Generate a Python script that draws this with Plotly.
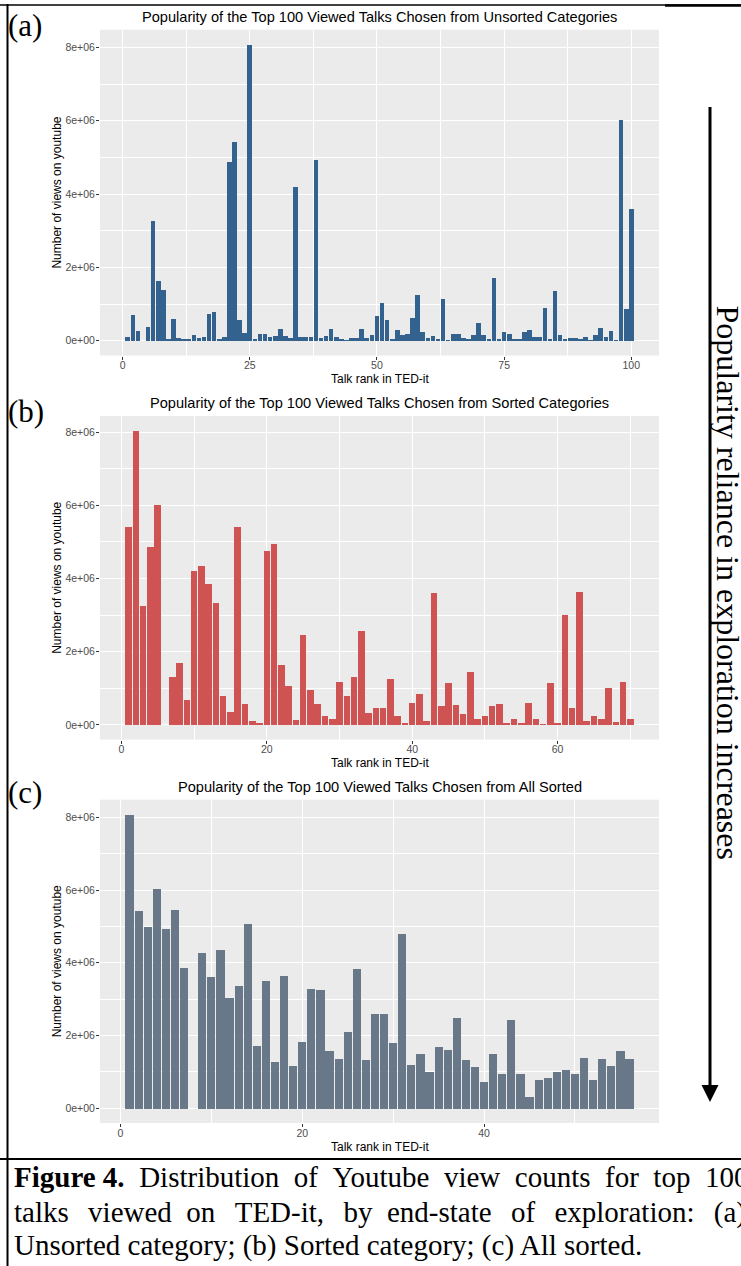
import plotly.graph_objects as go

# ---------------- data (views in millions) ----------------
ranks_a = list(range(1, 101))
views_a = [0.12, 0.70, 0.26, None, 0.37, 3.26, 1.65, 1.38, 0.06, 0.60,
           0.07, 0.03, 0.05, 0.17, 0.08, 0.10, 0.74, 0.80, 0.05, 0.11,
           4.89, 5.43, 0.58, 0.22, 8.08, 0.05, 0.18, 0.18, 0.12, 0.13,
           0.32, 0.14, 0.08, 4.20, 0.12, 0.10, 0.10, 4.95, 0.07, 0.13,
           0.34, 0.12, 0.05, 0.02, 0.07, 0.07, 0.34, 0.08, 0.15, 0.69,
           1.05, 0.58, 0.05, 0.30, 0.15, 0.18, 0.63, 1.26, 0.25, 0.07,
           0.13, 0.05, 1.14, 0.02, 0.20, 0.18, 0.07, 0.03, 0.15, 0.50,
           0.15, 0.04, 1.71, 0.06, 0.25, 0.20, 0.04, 0.03, 0.25, 0.30,
           0.12, 0.10, 0.90, 0.05, 1.37, 0.15, 0.05, 0.08, 0.08, 0.06,
           0.10, 0.02, 0.17, 0.35, 0.10, 0.28, 0.02, 6.03, 0.86, 3.60]

ranks_b = list(range(1, 71))
views_b = [5.40, 8.04, 3.24, 4.87, 6.00, None, 1.32, 1.70, 0.67, 4.20,
           4.33, 3.84, 3.33, 0.79, 0.34, 5.40, 0.58, 0.11, 0.05, 4.75,
           4.95, 1.63, 1.05, 0.13, 2.47, 0.95, 0.58, 0.24, 0.15, 1.16,
           0.78, 1.31, 2.56, 0.32, 0.47, 0.47, 1.26, 0.24, 0.04, 0.61,
           0.85, 0.11, 3.60, 0.51, 1.15, 0.55, 0.30, 1.45, 0.15, 0.24,
           0.51, 0.56, 0.05, 0.15, 0.05, 0.61, 0.17, 0.02, 1.14, 0.05,
           3.00, 0.45, 3.64, 0.12, 0.24, 0.15, 1.00, 0.09, 1.16, 0.15]

ranks_c = list(range(1, 57))
views_c = [8.08, 5.44, 5.00, 6.05, 4.93, 5.45, 3.87, None, 4.27, 3.62,
           4.36, 3.03, 3.37, 5.07, 1.72, 3.51, 1.27, 3.65, 1.18, 1.82,
           3.28, 3.25, 1.58, 1.37, 2.10, 3.83, 1.33, 2.60, 2.60, 1.79,
           4.80, 1.20, 1.49, 1.01, 1.68, 1.61, 2.50, 1.34, 1.15, 0.73,
           1.50, 0.94, 2.43, 0.96, 0.32, 0.80, 0.83, 1.01, 1.05, 0.96,
           1.40, 0.78, 1.36, 1.18, 1.58, 1.37]

y_tickvals = [0, 2e6, 4e6, 6e6, 8e6]
y_ticktext = ["0e+00", "2e+06", "4e+06", "6e+06", "8e+06"]

titles = ["Popularity of the Top 100 Viewed Talks Chosen from Unsorted Categories",
          "Popularity of the Top 100 Viewed Talks Chosen from Sorted Categories",
          "Popularity of the Top 100 Viewed Talks Chosen from All Sorted"]
panel_labels = ["(a)", "(b)", "(c)"]
x_title = "Talk rank in TED-it"
y_title = "Number of views on youtube"
colors = ["#33628F", "#CF5352", "#687889"]
x_dticks = [25, 20, 20]

side_text = "Popularity reliance in exploration increases"
caption1_words = ["<b>Figure 4.</b>", "Distribution", "of", "Youtube", "view",
                  "counts", "for", "top", "100"]
caption2_words = ["talks", "viewed", "on", "TED-it,", "by", "end-state", "of",
                  "exploration:", "(a)"]
caption3 = "Unsorted category; (b) Sorted category; (c) All sorted."

# ---------------- layout helpers ----------------
W, H = 741, 1266
def X(p):
    return p / W
def Y(p):
    return 1 - p / H

panels_px = [(29.7, 355.5), (416.0, 739.6), (799.7, 1123.0)]  # (top, bottom)
title_y = [17, 403, 787]
label_y = [25, 411, 792]
xtitle_y = [379, 763, 1147]
px_left, px_right = 100, 659

fig = go.Figure()
annotations = []
sans = "Liberation Sans, Arial, sans-serif"
serif = "Liberation Serif, Times New Roman, serif"

data = [(ranks_a, views_a), (ranks_b, views_b), (ranks_c, views_c)]
for i, (rk, vals) in enumerate(data):
    n = len(rk)
    yv = [None if v is None else v * 1e6 for v in vals]
    ax = "" if i == 0 else str(i + 1)
    fig.add_trace(go.Bar(x=rk, y=yv, width=0.9, marker_color=colors[i],
                         marker_line_width=0, xaxis="x" + ax, yaxis="y" + ax,
                         showlegend=False))
    ymax = max(v for v in yv if v is not None)
    span = (n + 0.45) - 0.55
    xr = [0.55 - 0.05 * span, n + 0.45 + 0.05 * span]
    yr = [-0.05 * ymax, 1.05 * ymax]
    top, bot = panels_px[i]
    common = dict(showline=False, zeroline=False, gridcolor="white", gridwidth=1.3,
                  ticks="outside", ticklen=3, tickwidth=1, tickcolor="#333333",
                  tickfont=dict(family=sans, size=10.5, color="#4D4D4D"))
    fig.layout["xaxis" + ax] = dict(
        domain=[X(px_left), X(px_right)], range=xr, anchor="y" + ax,
        tickmode="linear", tick0=0, dtick=x_dticks[i], ticklabelstandoff=-3,
        minor=dict(tick0=0, dtick=x_dticks[i] / 2, showgrid=True,
                   gridcolor="white", gridwidth=0.7, ticks=""),
        **common)
    fig.layout["yaxis" + ax] = dict(
        domain=[Y(bot), Y(top)], range=yr, anchor="x" + ax,
        tickmode="array", tickvals=y_tickvals, ticktext=y_ticktext, ticklabelstandoff=-1,
        minor=dict(tick0=0, dtick=1e6, showgrid=True,
                   gridcolor="white", gridwidth=0.7, ticks=""),
        **common)
    cx = X((px_left + px_right) / 2)
    annotations.append(dict(text=titles[i], x=cx, y=Y(title_y[i]), xref="paper", yref="paper",
                            showarrow=False, xanchor="center", yanchor="middle",
                            font=dict(family=sans, size=14.6, color="black")))
    annotations.append(dict(text=x_title, x=cx, y=Y(xtitle_y[i]), xref="paper", yref="paper",
                            showarrow=False, xanchor="center", yanchor="middle",
                            font=dict(family=sans, size=12, color="black")))
    annotations.append(dict(text=y_title, x=X(57), y=Y((top + bot) / 2), xref="paper", yref="paper",
                            showarrow=False, xanchor="center", yanchor="middle", textangle=-90,
                            font=dict(family=sans, size=12, color="black")))
    annotations.append(dict(text=panel_labels[i], x=X(6), y=Y(label_y[i]), xref="paper", yref="paper",
                            showarrow=False, xanchor="left", yanchor="middle",
                            font=dict(family=serif, size=31, color="black")))

# side text
annotations.append(dict(text=side_text, x=X(728), y=Y(582.5), xref="paper", yref="paper",
                        showarrow=False, xanchor="center", yanchor="middle", textangle=90,
                        font=dict(family=serif, size=32, color="black")))

# caption (lines 1 and 2 justified by widening word gaps)
wide = " \u00a0\u2006"
mid = " \u00a0"
caption1 = mid.join(caption1_words)
gaps2 = [wide, mid, wide, wide, mid, wide, wide, wide]
caption2 = caption2_words[0]
for g, w in zip(gaps2, caption2_words[1:]):
    caption2 += g + w
for txt, yy in [(caption1, 1177), (caption2, 1212), (caption3, 1245)]:
    annotations.append(dict(text=txt, x=X(12), y=Y(yy), xref="paper", yref="paper",
                            showarrow=False, xanchor="left", yanchor="middle",
                            font=dict(family=serif, size=29, color="black")))

shapes = [
    # frame lines
    dict(type="line", xref="paper", yref="paper", x0=X(0), x1=X(741), y0=Y(5), y1=Y(5),
         line=dict(color="black", width=1.5)),
    dict(type="line", xref="paper", yref="paper", x0=X(665), x1=X(741), y0=Y(5.5), y1=Y(5.5),
         line=dict(color="black", width=2.5)),
    dict(type="line", xref="paper", yref="paper", x0=X(7.5), x1=X(7.5), y0=Y(4), y1=Y(1266),
         line=dict(color="black", width=2)),
    dict(type="line", xref="paper", yref="paper", x0=X(0), x1=X(741), y0=Y(1159), y1=Y(1159),
         line=dict(color="black", width=2)),
    # arrow
    dict(type="line", xref="paper", yref="paper", x0=X(710), x1=X(710), y0=Y(107), y1=Y(1088),
         line=dict(color="black", width=3)),
    dict(type="path", xref="paper", yref="paper",
         path=f"M {X(701.5)},{Y(1085)} L {X(718.5)},{Y(1085)} L {X(710)},{Y(1102)} Z",
         fillcolor="black", line=dict(color="black", width=0)),
]

fig.update_layout(width=W, height=H, margin=dict(l=0, r=0, t=0, b=0),
                  paper_bgcolor="white", plot_bgcolor="#EBEBEB",
                  bargap=0, annotations=annotations, shapes=shapes)

fig.write_html("out.html", config={"displayModeBar": False},
               post_script="document.body.style.margin='0';document.body.style.overflow='hidden';")
